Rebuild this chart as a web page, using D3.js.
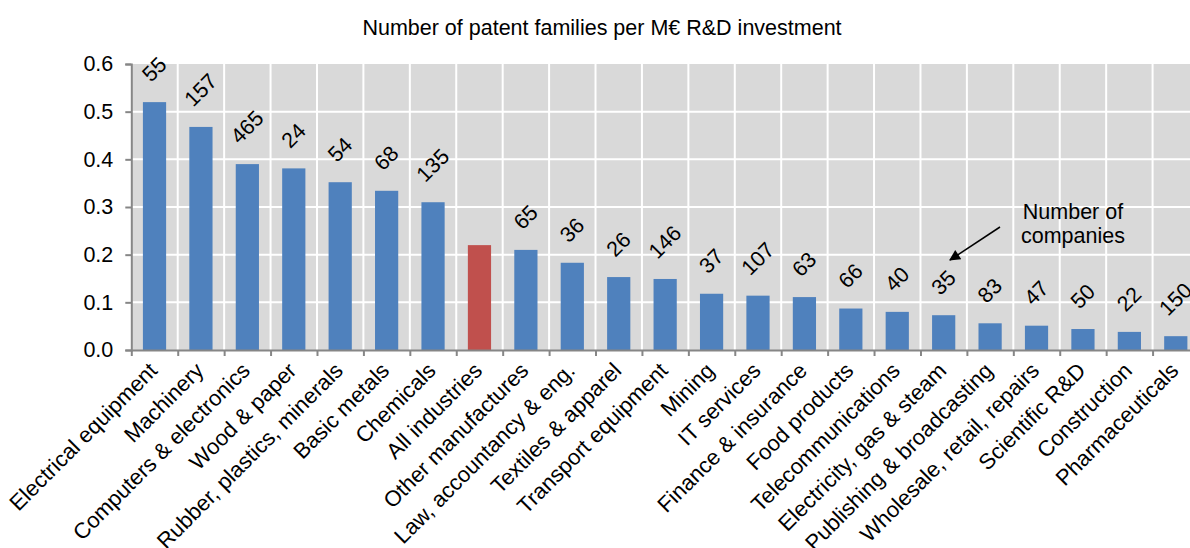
<!DOCTYPE html>
<html>
<head>
<meta charset="utf-8">
<script src="https://cdn.jsdelivr.net/npm/d3@7"></script>
<style>
  body { margin: 0; background: #fff; }
  svg { display: block; font-family: "Liberation Sans", Arial, sans-serif; }
</style>
</head>
<body>
<svg width="1190" height="548"></svg>
<script>
// data
const categories = [
  "Electrical equipment", "Machinery", "Computers & electronics", "Wood & paper",
  "Rubber, plastics, minerals", "Basic metals", "Chemicals", "All industries",
  "Other manufactures", "Law, accountancy & eng.", "Textiles & apparel",
  "Transport equipment", "Mining", "IT services", "Finance & insurance",
  "Food products", "Telecommunications", "Electricity, gas & steam",
  "Publishing & broadcasting", "Wholesale, retail, repairs", "Scientific R&D",
  "Construction", "Pharmaceuticals"
];
const values = [
  0.520, 0.468, 0.390, 0.381, 0.352, 0.334, 0.310, 0.220,
  0.210, 0.183, 0.153, 0.149, 0.118, 0.114, 0.111,
  0.087, 0.080, 0.073, 0.056, 0.051, 0.044, 0.038, 0.029
];
const companies = [
  55, 157, 465, 24, 54, 68, 135, null,
  65, 36, 26, 146, 37, 107, 63,
  66, 40, 35, 83, 47, 50, 22, 150
];
const yTicks = [0, 0.1, 0.2, 0.3, 0.4, 0.5, 0.6];
const title = "Number of patent families per M€ R&D investment";
const note = ["Number of", "companies"];

const data = categories.map((c, i) => ({ name: c, value: values[i], n: companies[i] }));

const plotLeft = 131.3, plotRight = 1199, plotTop = 64, plotBottom = 350;
const svg = d3.select("svg");

const x = d3.scaleBand()
  .domain(categories)
  .range([plotLeft, plotRight])
  .paddingInner(0.5)
  .paddingOuter(0.25);

const y = d3.scaleLinear().domain([0, 0.6]).range([plotBottom, plotTop]);

// plot background
svg.append("rect")
  .attr("x", plotLeft).attr("y", plotTop)
  .attr("width", plotRight - plotLeft).attr("height", plotBottom - plotTop)
  .attr("fill", "#d9d9d9");

// gridlines
svg.append("g")
  .selectAll("line")
  .data(yTicks.slice(1, -1))
  .join("line")
  .attr("x1", plotLeft).attr("x2", plotRight)
  .attr("y1", d => y(d)).attr("y2", d => y(d))
  .attr("stroke", "#fff").attr("stroke-width", 2);

const step = x.step();
svg.append("g")
  .selectAll("line")
  .data(d3.range(1, categories.length + 1))
  .join("line")
  .attr("x1", d => plotLeft + d * step).attr("x2", d => plotLeft + d * step)
  .attr("y1", plotTop).attr("y2", plotBottom)
  .attr("stroke", "#fff").attr("stroke-width", 2);

// bars
svg.append("g")
  .selectAll("rect")
  .data(data)
  .join("rect")
  .attr("x", d => x(d.name))
  .attr("y", d => y(d.value))
  .attr("width", x.bandwidth())
  .attr("height", d => y(0) - y(d.value))
  .attr("fill", d => d.name === "All industries" ? "#c0504d" : "#4f81bd");

// y axis
const yAxis = svg.append("g")
  .attr("transform", `translate(${plotLeft},0)`)
  .call(d3.axisLeft(y).tickValues(yTicks).tickFormat(d3.format(".1f")).tickSize(6).tickPadding(12));
yAxis.select(".domain").attr("stroke", "#868686").attr("stroke-width", 2);
yAxis.selectAll(".tick line").attr("stroke", "#868686").attr("stroke-width", 2);
yAxis.selectAll(".tick text")
  .attr("font-size", 21.5).attr("fill", "#000")
  .attr("font-family", "Liberation Sans, Arial, sans-serif");

// x axis: line + ticks at category boundaries
const xb = d3.scaleLinear().domain([0, categories.length]).range([plotLeft, plotRight]);
const xAxis = svg.append("g")
  .attr("transform", `translate(0,${plotBottom})`)
  .call(d3.axisBottom(xb).tickValues(d3.range(0, categories.length + 1)).tickFormat("").tickSize(6).tickSizeOuter(0));
xAxis.select(".domain").attr("stroke", "#868686").attr("stroke-width", 2);
xAxis.selectAll(".tick line").attr("stroke", "#868686").attr("stroke-width", 2);

// category labels
svg.append("g")
  .selectAll("text")
  .data(data)
  .join("text")
  .attr("transform", d => `translate(${x(d.name) + x.bandwidth() / 2 + 4},${plotBottom + 22}) rotate(-45)`)
  .attr("text-anchor", "end")
  .attr("font-size", 22)
  .text(d => d.name);

// number of companies labels
svg.append("g")
  .selectAll("text")
  .data(data.filter(d => d.n !== null))
  .join("text")
  .attr("text-anchor", "middle")
  .attr("dominant-baseline", "central")
  .attr("font-size", 21.5)
  .text(d => d.n)
  .attr("transform", function (d) {
    const w = this.getComputedTextLength();
    const cx = x(d.name) + x.bandwidth() / 2;
    const cy = y(d.value) - 24 - w * 0.354;
    return `translate(${cx},${cy}) rotate(-45)`;
  });

// title
svg.append("text")
  .attr("x", 602).attr("y", 35)
  .attr("text-anchor", "middle")
  .attr("font-size", 21.5)
  .text(title);

// annotation
svg.append("defs").append("marker")
  .attr("id", "arrow")
  .attr("viewBox", "0 0 10 10")
  .attr("refX", 9).attr("refY", 5)
  .attr("markerWidth", 14).attr("markerHeight", 11)
  .attr("markerUnits", "userSpaceOnUse")
  .attr("orient", "auto")
  .append("path")
  .attr("d", "M0,0 L10,5 L0,10 z")
  .attr("fill", "#000");

svg.append("line")
  .attr("x1", 1000).attr("y1", 227)
  .attr("x2", 950).attr("y2", 260)
  .attr("stroke", "#000").attr("stroke-width", 1.5)
  .attr("marker-end", "url(#arrow)");

svg.append("g")
  .selectAll("text")
  .data(note)
  .join("text")
  .attr("x", 1073)
  .attr("y", (d, i) => 219 + i * 24)
  .attr("text-anchor", "middle")
  .attr("font-size", 21.5)
  .text(d => d);
</script>
</body>
</html>
